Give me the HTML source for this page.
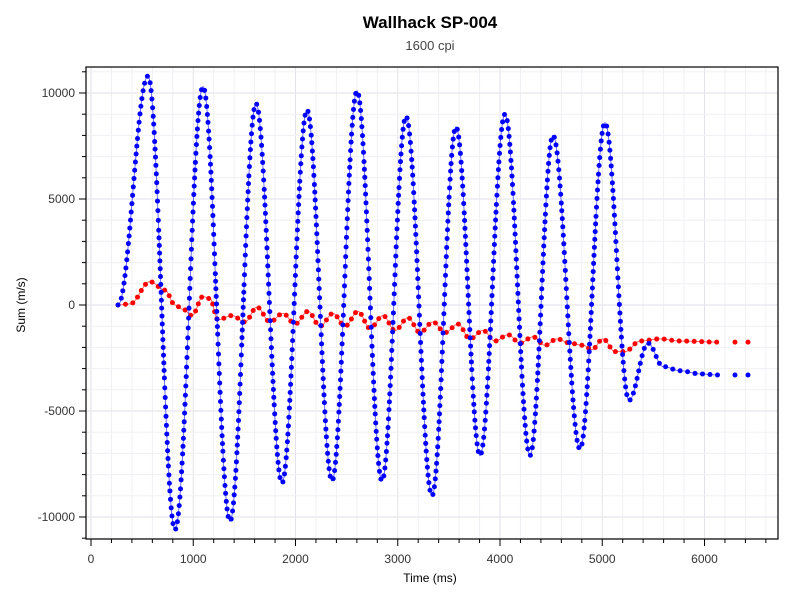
<!DOCTYPE html>
<html><head><meta charset="utf-8">
<style>
body{margin:0;background:#fff;width:800px;height:600px;overflow:hidden;font-family:"Liberation Sans",sans-serif}
</style></head><body>
<svg id="s" width="800" height="600" xmlns="http://www.w3.org/2000/svg" font-family="Liberation Sans, sans-serif">
<rect width="800" height="600" fill="#fff"/>
<text x="430" y="28" text-anchor="middle" font-size="17" font-weight="bold" fill="#000">Wallhack SP-004</text>
<text x="430" y="50" text-anchor="middle" font-size="13" fill="#444">1600 cpi</text>
<g id="grid"></g>
<g id="series"></g>
<rect x="86" y="67" width="692" height="472" fill="none" stroke="#000" stroke-width="1.2"/>
<g id="ticks" font-size="12" fill="#333"></g>
<text x="430" y="582" text-anchor="middle" font-size="12" fill="#000">Time (ms)</text>
<text transform="translate(25,305) rotate(-90)" text-anchor="middle" font-size="12" fill="#000">Sum (m/s)</text>
</svg>
<script>
var NS="http://www.w3.org/2000/svg";
function el(p,t,a){var e=document.createElementNS(NS,t);for(var k in a)e.setAttribute(k,a[k]);p.appendChild(e);return e;}
var X=function(t){return 91+0.10225*t}, Y=function(v){return 305-0.0212*v};
var g=document.getElementById('grid'),tk=document.getElementById('ticks'),se=document.getElementById('series');
for(var t=0;t<=6800;t+=200){var x=X(t);if(x<86||x>778)continue;
 el(g,'line',{x1:x,x2:x,y1:67,y2:539,stroke:t%1000==0?'#e2e2ea':'#f0f0f4','stroke-width':1});
 el(tk,'line',{x1:x,x2:x,y1:539,y2:t%1000==0?546:543,stroke:'#000'});
 if(t%1000==0){var e=el(tk,'text',{x:x,y:563,'text-anchor':'middle'});e.textContent=t;}}
for(var v=-11000;v<=11000;v+=1000){var y=Y(v);if(y<67||y>539)continue;
 el(g,'line',{x1:86,x2:778,y1:y,y2:y,stroke:v%5000==0?'#e2e2ea':'#f0f0f4','stroke-width':1});
 el(tk,'line',{x1:86,x2:v%5000==0?79:82,y1:y,y2:y,stroke:'#000'});
 if(v%5000==0){var e=el(tk,'text',{x:75,y:y+4,'text-anchor':'end'});e.textContent=v;}}
var blue=[[118,0],[148,10800],[175,-10600],[203,10300],[230,-10200],[256,9500],[282,-8400],[307,9200],[332,-8300],[357,10100],[382,-8300],[406,8900],[432,-9000],[456,8400],[480,-7100],[505,9000],[530,-7100],[553,8000],[580,-6800],[605,8600],[629,-4500],[648,-1800],[663,-2900],[680,-3100],[700,-3250],[718,-3300]];
var red=[[118,0],[130,50],[150,1100],[165,700],[175,0],[183,-200],[192,-500],[203,400],[210,300],[218,-700],[232,-500],[245,-800],[257,-100],[270,-800],[283,-400],[295,-900],[308,-300],[320,-1000],[333,-400],[345,-1000],[358,-300],[370,-1100],[383,-500],[395,-1200],[408,-600],[420,-1300],[433,-800],[445,-1300],[458,-900],[470,-1600],[483,-1200],[495,-1700],[508,-1400],[520,-1800],[533,-1500],[545,-1900],[557,-1600],[570,-1800],[583,-1900],[592,-2100],[603,-1600],[615,-2200],[625,-2200],[640,-1700],[660,-1600],[680,-1700],[718,-1750]];
function interp(k,x){for(var i=0;i<k.length-1;i++){if(x<=k[i+1][0]){var a=k[i],b=k[i+1],f=(x-a[0])/(b[0]-a[0]);f=(1-Math.cos(Math.PI*f))/2;return a[1]+(b[1]-a[1])*f;}}return k[k.length-1][1];}
function draw(k,col,sp){var d='',acc=sp,px=null,py=null;var dots=[];
 for(var x=118;x<=718;x+=0.1){var y=Y(interp(k,x));d+=(d?'L':'M')+x.toFixed(2)+','+y.toFixed(2);
  if(px!==null)acc+=Math.hypot(x-px,y-py);px=x;py=y;
  if(acc>=sp){dots.push([x,y]);acc=0;}}
 el(se,'path',{d:d,fill:'none',stroke:col,'stroke-width':0.8,'stroke-opacity':0.7});
 dots.forEach(function(p){el(se,'circle',{cx:p[0],cy:p[1],r:2.5,fill:col});});
 [735,748].forEach(function(x){el(se,'circle',{cx:x,cy:Y(k[k.length-1][1]),r:2.5,fill:col});});}
draw(red,'#ff0000',7.5);draw(blue,'#0000ff',7.5);
</script>
</body></html>
